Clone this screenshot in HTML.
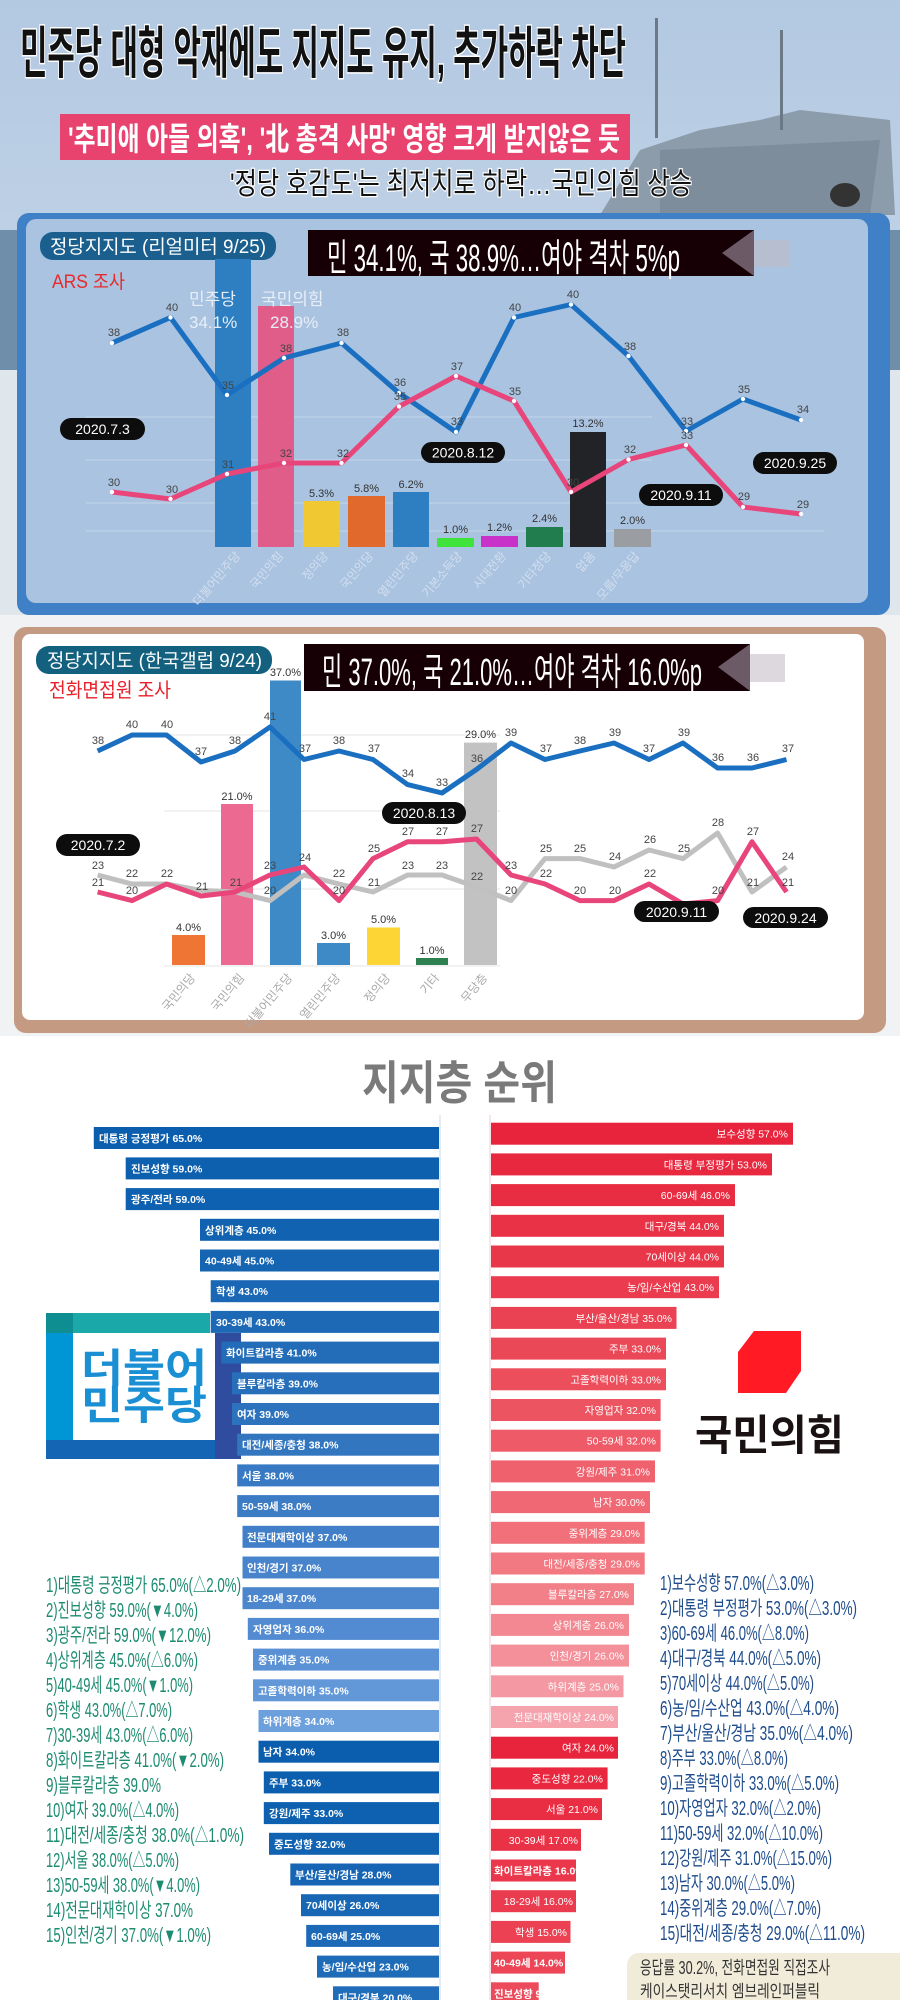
<!DOCTYPE html>
<html><head><meta charset="utf-8"><style>
html,body{margin:0;padding:0;background:#fff}
svg{display:block}
text{font-family:"Liberation Sans","Noto Sans CJK KR",sans-serif}
.pl{font-size:11px;fill:#444}
.pl2{font-size:11px;fill:#333}
.bl{font-size:10.5px;font-weight:bold;fill:#fff}
.br{font-size:10.5px;fill:#fff;text-anchor:end}
.lt{font-size:20px;fill:#1d8b70}
.rt{font-size:20px;fill:#1e4c8c}
.dp{font-size:14px;fill:#fff}
</style></head><body>
<svg width="900" height="2000" viewBox="0 0 900 2000" xmlns="http://www.w3.org/2000/svg">
<defs>
<linearGradient id="sky" x1="0" y1="0" x2="0" y2="1"><stop offset="0" stop-color="#b3c9e2"/><stop offset="1" stop-color="#cfdcea"/></linearGradient>
</defs>
<rect x="0" y="0" width="900" height="620" fill="url(#sky)"/>
<rect x="0" y="230" width="900" height="140" fill="#6f8ea9"/>
<rect x="0" y="370" width="900" height="250" fill="#dfe6ec"/>
<polygon points="600,215 640,150 700,130 760,120 800,110 890,120 895,215" fill="#8d9cab"/>
<polygon points="660,150 880,140 870,215 660,215" fill="#7d8d9c"/>
<rect x="655" y="18" width="3" height="120" fill="#6b7886"/>
<rect x="780" y="30" width="3" height="100" fill="#6b7886"/>
<ellipse cx="845" cy="195" rx="15" ry="12" fill="#333"/>
<text x="20" y="73" font-size="56" font-weight="bold" fill="#111" stroke="#fff" stroke-width="3" paint-order="stroke" textLength="606" lengthAdjust="spacingAndGlyphs">민주당 대형 악재에도 지지도 유지, 추가하락 차단</text>
<rect x="60" y="114" width="570" height="46" fill="#e8436f"/>
<text x="68" y="150" font-size="32" font-weight="bold" fill="#fff" textLength="552" lengthAdjust="spacingAndGlyphs">'추미애 아들 의혹', '北 총격 사망' 영향 크게 받지않은 듯</text>
<text x="230" y="194" font-size="30" fill="#111" stroke="#fff" stroke-width="2.5" paint-order="stroke" textLength="462" lengthAdjust="spacingAndGlyphs">'정당 호감도'는 최저치로 하락…국민의힘 상승</text>

<rect x="17" y="213" width="873" height="402" rx="12" fill="#3f80c6"/>
<rect x="26" y="219" width="842" height="384" rx="10" fill="#a9c3e0"/>
<g stroke="#c5d6ea" stroke-width="1">
<line x1="86" y1="417" x2="652" y2="417"/><line x1="86" y1="460" x2="652" y2="460"/><line x1="86" y1="503" x2="652" y2="503"/><line x1="86" y1="531" x2="824" y2="531"/>
</g>
<rect x="40" y="232" width="236" height="28" rx="13" fill="#1a5f8e"/>
<text x="50" y="253" font-size="19" fill="#fff" textLength="216" lengthAdjust="spacingAndGlyphs">정당지지도 (리얼미터 9/25)</text>
<text x="52" y="288" font-size="19" fill="#e82a2a" textLength="73" lengthAdjust="spacingAndGlyphs">ARS 조사</text>
<rect x="308" y="230" width="446" height="46" fill="#160006"/>
<rect x="754" y="240" width="35" height="27" fill="#b6bed0"/>
<polygon points="754,230 754,276 722,253" fill="#6c5a66"/>
<text x="327" y="271" font-size="38" fill="#fff" textLength="353" lengthAdjust="spacingAndGlyphs">민 34.1%, 국 38.9%…여야 격차 5%p</text>
<rect x="215" y="259" width="36" height="288" fill="#2e7fc1"/>
<rect x="258" y="306" width="36" height="241" fill="#e05d8a"/>
<rect x="303" y="501" width="37" height="46" fill="#f0c832"/>
<rect x="348" y="496" width="37" height="51" fill="#e2692c"/>
<rect x="393" y="492" width="36" height="55" fill="#2e7fc1"/>
<rect x="437" y="538" width="37" height="9" fill="#3ee43a"/>
<rect x="481" y="536" width="37" height="11" fill="#c832c8"/>
<rect x="526" y="527" width="37" height="20" fill="#217d4e"/>
<rect x="570" y="432" width="36" height="115" fill="#222326"/>
<rect x="614" y="529" width="37" height="18" fill="#9a9da2"/>
<text x="189" y="305" font-size="17" fill="#e8eef6">민주당</text>
<text x="189" y="328" font-size="17" fill="#e8eef6">34.1%</text>
<text x="261" y="305" font-size="17" fill="#e8eef6">국민의힘</text>
<text x="270" y="328" font-size="17" fill="#e8eef6">28.9%</text>
<g class="pl2" text-anchor="middle">
<text x="321.5" y="497">5.3%</text><text x="366.5" y="492">5.8%</text><text x="411" y="488">6.2%</text><text x="455.5" y="533">1.0%</text><text x="499.5" y="531">1.2%</text><text x="544.5" y="522">2.4%</text><text x="588" y="427">13.2%</text><text x="632.5" y="524">2.0%</text>
</g>
<g font-size="12" fill="#d4dff0" text-anchor="end">
<text transform="translate(241,556) rotate(-50)">더불어민주당</text>
<text transform="translate(284,556) rotate(-50)">국민의힘</text>
<text transform="translate(329,556) rotate(-50)">정의당</text>
<text transform="translate(374,556) rotate(-50)">국민의당</text>
<text transform="translate(419,556) rotate(-50)">열린민주당</text>
<text transform="translate(463,556) rotate(-50)">기본소득당</text>
<text transform="translate(507,556) rotate(-50)">시대전환</text>
<text transform="translate(552,556) rotate(-50)">기타정당</text>
<text transform="translate(596,556) rotate(-50)">없음</text>
<text transform="translate(640,556) rotate(-50)">모름/무응답</text>
</g>
<polyline points="112,343 170.5,317.5 227,395 284,358 341.5,343 399,393 456,432 514,317.5 571,304.5 628.5,356 686,431 743,399 801,420" fill="none" stroke="#1a6fc0" stroke-width="5" stroke-linejoin="round"/>
<polyline points="112,492 170.5,499 227,474 284,463 341.5,463 399,406.5 456,376 514,401 571,492 628.5,459.5 686,445 743,507 801,514" fill="none" stroke="#e8457a" stroke-width="5" stroke-linejoin="round"/>
<g fill="#fff">
<circle cx="112" cy="343" r="2.2"/><circle cx="170.5" cy="317.5" r="2.2"/><circle cx="227" cy="395" r="2.2"/><circle cx="284" cy="358" r="2.2"/><circle cx="341.5" cy="343" r="2.2"/><circle cx="399" cy="393" r="2.2"/><circle cx="456" cy="432" r="2.2"/><circle cx="514" cy="317.5" r="2.2"/><circle cx="571" cy="304.5" r="2.2"/><circle cx="628.5" cy="356" r="2.2"/><circle cx="686" cy="431" r="2.2"/><circle cx="743" cy="399" r="2.2"/><circle cx="801" cy="420" r="2.2"/>
<circle cx="112" cy="492" r="2.2"/><circle cx="170.5" cy="499" r="2.2"/><circle cx="227" cy="474" r="2.2"/><circle cx="284" cy="463" r="2.2"/><circle cx="341.5" cy="463" r="2.2"/><circle cx="399" cy="406.5" r="2.2"/><circle cx="456" cy="376" r="2.2"/><circle cx="514" cy="401" r="2.2"/><circle cx="571" cy="492" r="2.2"/><circle cx="628.5" cy="459.5" r="2.2"/><circle cx="686" cy="445" r="2.2"/><circle cx="743" cy="507" r="2.2"/><circle cx="801" cy="514" r="2.2"/>
</g>
<g class="pl" text-anchor="middle">
<text x="114" y="336">38</text><text x="172" y="311">40</text><text x="228" y="389">35</text><text x="286" y="352">38</text><text x="343" y="336">38</text><text x="400" y="386">36</text><text x="457" y="425">33</text><text x="515" y="311">40</text><text x="573" y="298">40</text><text x="630" y="350">38</text><text x="687" y="425">33</text><text x="744" y="393">35</text><text x="803" y="413">34</text>
<text x="114" y="486">30</text><text x="172" y="493">30</text><text x="228" y="468">31</text><text x="286" y="457">32</text><text x="343" y="457">32</text><text x="400" y="400">35</text><text x="457" y="370">37</text><text x="515" y="395">35</text><text x="573" y="486">30</text><text x="630" y="453">32</text><text x="687" y="439">33</text><text x="744" y="500">29</text><text x="803" y="508">29</text>
</g>
<rect x="60" y="418" width="85" height="22" rx="11" fill="#0d0d0d"/><text class="dp" x="102.5" y="434" text-anchor="middle">2020.7.3</text>
<rect x="421" y="442" width="84" height="21" rx="10.5" fill="#0d0d0d"/><text class="dp" x="463" y="457.5" text-anchor="middle">2020.8.12</text>
<rect x="639" y="484" width="84" height="22" rx="11" fill="#0d0d0d"/><text class="dp" x="681" y="500" text-anchor="middle">2020.9.11</text>
<rect x="753" y="452" width="84" height="22" rx="11" fill="#0d0d0d"/><text class="dp" x="795" y="468" text-anchor="middle">2020.9.25</text>

<rect x="0" y="615" width="900" height="421" fill="#f1f2f3"/>
<rect x="14" y="627" width="872" height="406" rx="12" fill="#c49a82"/>
<rect x="22" y="634" width="842" height="386" rx="8" fill="#fff"/>
<g stroke="#eeeeee" stroke-width="1.5">
<line x1="164" y1="735" x2="500" y2="735"/><line x1="164" y1="811" x2="500" y2="811"/><line x1="164" y1="889" x2="500" y2="889"/><line x1="164" y1="966" x2="500" y2="966"/>
</g>
<rect x="36" y="646" width="236" height="28" rx="13" fill="#13617f"/>
<text x="47" y="667" font-size="19" fill="#fff" textLength="215" lengthAdjust="spacingAndGlyphs">정당지지도 (한국갤럽 9/24)</text>
<text x="49" y="697" font-size="20" fill="#e8202a" textLength="122" lengthAdjust="spacingAndGlyphs">전화면접원 조사</text>
<rect x="304" y="644" width="446" height="47" fill="#160006"/>
<rect x="750" y="654" width="35" height="28" fill="#dcd8de"/>
<polygon points="750,644 750,691 718,667" fill="#6c5a66"/>
<text x="322" y="685" font-size="38" fill="#fff" textLength="380" lengthAdjust="spacingAndGlyphs">민 37.0%, 국 21.0%…여야 격차 16.0%p</text>
<rect x="172" y="935" width="33" height="30" fill="#ef7535"/>
<rect x="221" y="804" width="32" height="161" fill="#ec6a92"/>
<rect x="270" y="680.5" width="31" height="284.5" fill="#3d8ac6"/>
<rect x="317" y="943" width="33" height="22" fill="#3d8ac6"/>
<rect x="367" y="927.5" width="33" height="37.5" fill="#fdd535"/>
<rect x="416" y="958" width="32" height="7" fill="#2e8050"/>
<rect x="464" y="742.6" width="33" height="222.4" fill="#c2c2c2"/>
<g class="pl2" text-anchor="middle">
<text x="188.5" y="931">4.0%</text><text x="237" y="800">21.0%</text><text x="285.5" y="676">37.0%</text><text x="333.5" y="939">3.0%</text><text x="383.5" y="923">5.0%</text><text x="432" y="954">1.0%</text><text x="480.5" y="738">29.0%</text>
</g>
<g font-size="12" fill="#aaa" text-anchor="end">
<text transform="translate(196,978) rotate(-50)">국민의당</text>
<text transform="translate(245,978) rotate(-50)">국민의힘</text>
<text transform="translate(293,978) rotate(-50)">더불어민주당</text>
<text transform="translate(341,978) rotate(-50)">열린민주당</text>
<text transform="translate(391,978) rotate(-50)">정의당</text>
<text transform="translate(440,978) rotate(-50)">기타</text>
<text transform="translate(488,978) rotate(-50)">무당층</text>
</g>
<polyline points="97.6,875 132,884 166.5,884 201,890.5 235,892 270,900.6 304,875 339,884 373,892 407.6,875 442,875 476.5,887 511,900.6 545,858.6 580,858.6 614,867 649,850 683,858.6 717.6,833 752,892 786.5,867" fill="none" stroke="#c0c0c0" stroke-width="5" stroke-linejoin="round"/>
<polyline points="97.6,892 132,900.6 166.5,884 201,896 235,892 270,875 304,867 339,900.6 373,858.6 407.6,841.8 442,841.8 476.5,839 511,875 545,884 580,900.6 614,900.6 649,884 683,904 717.6,900.6 752,841.8 786.5,892" fill="none" stroke="#e8457a" stroke-width="5" stroke-linejoin="round"/>
<polyline points="97.6,751 132,735 166.5,735 201,762 235,751 270,727 304,759.5 339,751 373,759.5 407.6,784.6 442,793 476.5,769.5 511,743 545,759.5 580,751 614,743 649,759.5 683,743 717.6,768 752,768 786.5,759.5" fill="none" stroke="#1a6fc0" stroke-width="5" stroke-linejoin="round"/>
<g class="pl" text-anchor="middle">
<text x="98" y="744">38</text><text x="132" y="728">40</text><text x="167" y="728">40</text><text x="201" y="755">37</text><text x="235" y="744">38</text><text x="270" y="720">41</text><text x="305" y="752">37</text><text x="339" y="744">38</text><text x="374" y="752">37</text><text x="408" y="777">34</text><text x="442" y="786">33</text><text x="477" y="762">36</text><text x="511" y="736">39</text><text x="546" y="752">37</text><text x="580" y="744">38</text><text x="615" y="736">39</text><text x="649" y="752">37</text><text x="684" y="736">39</text><text x="718" y="761">36</text><text x="753" y="761">36</text><text x="788" y="752">37</text>
<text x="98" y="886">21</text><text x="132" y="894">20</text><text x="202" y="890">21</text><text x="236" y="886">21</text><text x="270" y="869">23</text><text x="305" y="861">24</text><text x="339" y="894">20</text><text x="374" y="852">25</text><text x="408" y="835">27</text><text x="442" y="835">27</text><text x="477" y="832">27</text><text x="511" y="869">23</text><text x="546" y="877">22</text><text x="580" y="894">20</text><text x="615" y="894">20</text><text x="650" y="877">22</text><text x="718" y="894">20</text><text x="753" y="835">27</text><text x="788" y="886">21</text>
<text x="98" y="869">23</text><text x="132" y="877">22</text><text x="167" y="877">22</text><text x="270" y="894">20</text><text x="339" y="877">22</text><text x="374" y="886">21</text><text x="408" y="869">23</text><text x="442" y="869">23</text><text x="477" y="880">22</text><text x="511" y="894">20</text><text x="546" y="852">25</text><text x="580" y="852">25</text><text x="615" y="860">24</text><text x="650" y="843">26</text><text x="684" y="852">25</text><text x="718" y="826">28</text><text x="753" y="886">21</text><text x="788" y="860">24</text>
</g>
<rect x="56" y="834" width="84" height="22" rx="11" fill="#0d0d0d"/><text class="dp" x="98" y="850" text-anchor="middle">2020.7.2</text>
<rect x="382" y="802" width="84" height="22" rx="11" fill="#0d0d0d"/><text class="dp" x="424" y="818" text-anchor="middle">2020.8.13</text>
<rect x="634" y="901" width="85" height="21" rx="10.5" fill="#0d0d0d"/><text class="dp" x="676.5" y="917" text-anchor="middle">2020.9.11</text>
<rect x="743" y="907" width="85" height="21" rx="10.5" fill="#0d0d0d"/><text class="dp" x="785.5" y="923" text-anchor="middle">2020.9.24</text>

<text x="362" y="1099" font-size="46" font-weight="bold" fill="#7a7a7a" textLength="195" lengthAdjust="spacingAndGlyphs">지지층 순위</text>
<line x1="440" y1="1115" x2="440" y2="2000" stroke="#e6ecf4" stroke-width="2"/>
<line x1="490" y1="1115" x2="490" y2="2000" stroke="#f4e6ea" stroke-width="2"/>
<!-- Minjoo logo (under bars) -->
<rect x="46" y="1313" width="195" height="146" fill="#fff"/>
<rect x="46" y="1313" width="164" height="20" fill="#1aa8a8"/>
<rect x="46" y="1313" width="27" height="20" fill="#0f8e92"/>
<rect x="46" y="1333" width="27" height="107" fill="#0096d6"/>
<rect x="46" y="1440" width="195" height="19" fill="#1565b5"/>
<rect x="215" y="1333" width="26" height="126" fill="#2f4c9e"/>
<text x="81" y="1382" font-size="40" font-weight="bold" fill="#1a8fd4" textLength="126" lengthAdjust="spacingAndGlyphs">더불어</text>
<text x="81" y="1419" font-size="40" font-weight="bold" fill="#1a8fd4" textLength="126" lengthAdjust="spacingAndGlyphs">민주당</text>
<g>
<rect x="93.8" y="1127" width="345.2" height="22" fill="#0a5ead"/><text class="bl" x="99" y="1142">대통령 긍정평가 65.0%</text>
<rect x="125.7" y="1157.4" width="313.3" height="22" fill="#0c60ae"/><text class="bl" x="131" y="1172.4">진보성향 59.0%</text>
<rect x="125.7" y="1188.1" width="313.3" height="22" fill="#0e61b0"/><text class="bl" x="131" y="1203.1">광주/전라 59.0%</text>
<rect x="200" y="1218.8" width="239" height="22" fill="#1163b1"/><text class="bl" x="205" y="1233.8">상위계층 45.0%</text>
<rect x="200" y="1249.5" width="239" height="22" fill="#1565b3"/><text class="bl" x="205" y="1264.5">40-49세 45.0%</text>
<rect x="210.7" y="1280.2" width="228.3" height="22" fill="#1967b5"/><text class="bl" x="216" y="1295.2">학생 43.0%</text>
<rect x="210.7" y="1310.9" width="228.3" height="22" fill="#1d69b6"/><text class="bl" x="216" y="1325.9">30-39세 43.0%</text>
<rect x="221.3" y="1341.6" width="217.7" height="22" fill="#226cb8"/><text class="bl" x="226" y="1356.6">화이트칼라층 41.0%</text>
<rect x="232" y="1372.3" width="207" height="22" fill="#276fba"/><text class="bl" x="237" y="1387.3">블루칼라층 39.0%</text>
<rect x="232" y="1403" width="207" height="22" fill="#2c72bd"/><text class="bl" x="237" y="1418">여자 39.0%</text>
<rect x="237.2" y="1433.7" width="201.8" height="22" fill="#3276c0"/><text class="bl" x="242" y="1448.7">대전/세종/충청 38.0%</text>
<rect x="237.2" y="1464.4" width="201.8" height="22" fill="#3779c2"/><text class="bl" x="242" y="1479.4">서울 38.0%</text>
<rect x="237.2" y="1495.1" width="201.8" height="22" fill="#3c7cc5"/><text class="bl" x="242" y="1510.1">50-59세 38.0%</text>
<rect x="242.5" y="1525.8" width="196.5" height="22" fill="#4180c8"/><text class="bl" x="247" y="1540.8">전문대재학이상 37.0%</text>
<rect x="242.5" y="1556.5" width="196.5" height="22" fill="#4784cb"/><text class="bl" x="247" y="1571.5">인천/경기 37.0%</text>
<rect x="242.5" y="1587.2" width="196.5" height="22" fill="#4c87ce"/><text class="bl" x="247" y="1602.2">18-29세 37.0%</text>
<rect x="247.8" y="1617.9" width="191.2" height="22" fill="#528bd1"/><text class="bl" x="253" y="1632.9">자영업자 36.0%</text>
<rect x="253" y="1648.6" width="186" height="22" fill="#5a91d5"/><text class="bl" x="258" y="1663.6">중위계층 35.0%</text>
<rect x="253" y="1679.3" width="186" height="22" fill="#6398d8"/><text class="bl" x="258" y="1694.3">고졸학력이하 35.0%</text>
<rect x="258.5" y="1710" width="180.5" height="22" fill="#6ba0dc"/><text class="bl" x="263" y="1725">하위계층 34.0%</text>
<rect x="258.5" y="1740.7" width="180.5" height="22" fill="#0a5ead"/><text class="bl" x="263" y="1755.7">남자 34.0%</text>
<rect x="263.8" y="1771.4" width="175.2" height="22" fill="#0c5faf"/><text class="bl" x="269" y="1786.4">주부 33.0%</text>
<rect x="263.8" y="1802.1" width="175.2" height="22" fill="#0e61b1"/><text class="bl" x="269" y="1817.1">강원/제주 33.0%</text>
<rect x="269" y="1832.8" width="170" height="22" fill="#1163b2"/><text class="bl" x="274" y="1847.8">중도성향 32.0%</text>
<rect x="290.3" y="1863.5" width="148.7" height="22" fill="#1565b4"/><text class="bl" x="295" y="1878.5">부산/울산/경남 28.0%</text>
<rect x="301" y="1894.2" width="138" height="22" fill="#1867b5"/><text class="bl" x="306" y="1909.2">70세이상 26.0%</text>
<rect x="306.2" y="1924.9" width="132.8" height="22" fill="#1b69b7"/><text class="bl" x="311" y="1939.9">60-69세 25.0%</text>
<rect x="317" y="1955.6" width="122" height="22" fill="#1e6bb8"/><text class="bl" x="322" y="1970.6">농/임/수산업 23.0%</text>
<rect x="333" y="1986.3" width="106" height="22" fill="#216db9"/><text class="bl" x="338" y="2001.3">대구/경북 20.0%</text>
</g>
<g>
<rect x="491" y="1122.7" width="302" height="22" fill="#e8243c"/><text class="br" x="788" y="1137.7">보수성향 57.0%</text>
<rect x="491" y="1153.4" width="281" height="22" fill="#e8283f"/><text class="br" x="767" y="1168.4">대통령 부정평가 53.0%</text>
<rect x="491" y="1184.1" width="244" height="22" fill="#e82d43"/><text class="br" x="730" y="1199.1">60-69세 46.0%</text>
<rect x="491" y="1214.8" width="233" height="22" fill="#e93246"/><text class="br" x="719" y="1229.8">대구/경북 44.0%</text>
<rect x="491" y="1245.5" width="233" height="22" fill="#e9374a"/><text class="br" x="719" y="1260.5">70세이상 44.0%</text>
<rect x="491" y="1276.2" width="228" height="22" fill="#ea3c4e"/><text class="br" x="714" y="1291.2">농/임/수산업 43.0%</text>
<rect x="491" y="1306.9" width="185.5" height="22" fill="#ea4252"/><text class="br" x="672" y="1321.9">부산/울산/경남 35.0%</text>
<rect x="491" y="1337.6" width="175" height="22" fill="#eb4857"/><text class="br" x="661" y="1352.6">주부 33.0%</text>
<rect x="491" y="1368.3" width="175" height="22" fill="#ec4e5c"/><text class="br" x="661" y="1383.3">고졸학력이하 33.0%</text>
<rect x="491" y="1399" width="169.6" height="22" fill="#ed5461"/><text class="br" x="656" y="1414">자영업자 32.0%</text>
<rect x="491" y="1429.7" width="169.6" height="22" fill="#ee5a67"/><text class="br" x="656" y="1444.7">50-59세 32.0%</text>
<rect x="491" y="1460.4" width="164" height="22" fill="#ef616d"/><text class="br" x="650" y="1475.4">강원/제주 31.0%</text>
<rect x="491" y="1491.1" width="159" height="22" fill="#f06873"/><text class="br" x="645" y="1506.1">남자 30.0%</text>
<rect x="491" y="1521.8" width="153.7" height="22" fill="#f1707a"/><text class="br" x="640" y="1536.8">중위계층 29.0%</text>
<rect x="491" y="1552.5" width="153.7" height="22" fill="#f27881"/><text class="br" x="640" y="1567.5">대전/세종/충청 29.0%</text>
<rect x="491" y="1583.2" width="143" height="22" fill="#f28089"/><text class="br" x="629" y="1598.2">블루칼라층 27.0%</text>
<rect x="491" y="1613.9" width="138" height="22" fill="#f38892"/><text class="br" x="624" y="1628.9">상위계층 26.0%</text>
<rect x="491" y="1644.6" width="138" height="22" fill="#f3909a"/><text class="br" x="624" y="1659.6">인천/경기 26.0%</text>
<rect x="491" y="1675.3" width="132.5" height="22" fill="#f499a3"/><text class="br" x="619" y="1690.3">하위계층 25.0%</text>
<rect x="491" y="1706" width="127" height="22" fill="#f5a3ad"/><text class="br" x="614" y="1721">전문대재학이상 24.0%</text>
<rect x="491" y="1736.7" width="127" height="22" fill="#e8243c"/><text class="br" x="614" y="1751.7">여자 24.0%</text>
<rect x="491" y="1767.4" width="116.6" height="22" fill="#e9283f"/><text class="br" x="603" y="1782.4">중도성향 22.0%</text>
<rect x="491" y="1798.1" width="111" height="22" fill="#e92d43"/><text class="br" x="598" y="1813.1">서울 21.0%</text>
<rect x="491" y="1828.8" width="90" height="22" fill="#ea3247"/><text class="br" x="578" y="1843.8">30-39세 17.0%</text>
<rect x="491" y="1859.5" width="85" height="22" fill="#ea374b"/><text class="bl" x="494" y="1874.5" font-weight="normal">화이트칼라층 16.0%</text>
<rect x="491" y="1890.2" width="85" height="22" fill="#eb3c4f"/><text class="br" x="573" y="1905.2">18-29세 16.0%</text>
<rect x="491" y="1920.9" width="79.5" height="22" fill="#eb4153"/><text class="br" x="567" y="1935.9">학생 15.0%</text>
<rect x="491" y="1951.6" width="74" height="22" fill="#ec4657"/><text class="bl" x="494" y="1966.6" font-weight="normal">40-49세 14.0%</text>
<rect x="491" y="1982.3" width="47.7" height="22" fill="#ec4b5b"/><text class="bl" x="494" y="1997.3" font-weight="normal">진보성향 9.0%</text>
</g>
<polygon points="754,1331 801,1331 801,1371 786,1393 738,1393 738,1352" fill="#ff1a24"/>
<text x="695" y="1450" font-size="42" font-weight="bold" fill="#1a1212" textLength="149" lengthAdjust="spacingAndGlyphs">국민의힘</text>
<g class="lt">
<text x="46" y="1592" textLength="195" lengthAdjust="spacingAndGlyphs">1)대통령 긍정평가 65.0%(△2.0%)</text>
<text x="46" y="1617" textLength="152" lengthAdjust="spacingAndGlyphs">2)진보성향 59.0%(▼4.0%)</text>
<text x="46" y="1642" textLength="165" lengthAdjust="spacingAndGlyphs">3)광주/전라 59.0%(▼12.0%)</text>
<text x="46" y="1667" textLength="152" lengthAdjust="spacingAndGlyphs">4)상위계층 45.0%(△6.0%)</text>
<text x="46" y="1692" textLength="147" lengthAdjust="spacingAndGlyphs">5)40-49세 45.0%(▼1.0%)</text>
<text x="46" y="1717" textLength="126" lengthAdjust="spacingAndGlyphs">6)학생 43.0%(△7.0%)</text>
<text x="46" y="1742" textLength="147" lengthAdjust="spacingAndGlyphs">7)30-39세 43.0%(△6.0%)</text>
<text x="46" y="1767" textLength="178" lengthAdjust="spacingAndGlyphs">8)화이트칼라층 41.0%(▼2.0%)</text>
<text x="46" y="1792" textLength="115" lengthAdjust="spacingAndGlyphs">9)블루칼라층 39.0%</text>
<text x="46" y="1817" textLength="133" lengthAdjust="spacingAndGlyphs">10)여자 39.0%(△4.0%)</text>
<text x="46" y="1842" textLength="198" lengthAdjust="spacingAndGlyphs">11)대전/세종/충청 38.0%(△1.0%)</text>
<text x="46" y="1867" textLength="133" lengthAdjust="spacingAndGlyphs">12)서울 38.0%(△5.0%)</text>
<text x="46" y="1892" textLength="154" lengthAdjust="spacingAndGlyphs">13)50-59세 38.0%(▼4.0%)</text>
<text x="46" y="1917" textLength="147" lengthAdjust="spacingAndGlyphs">14)전문대재학이상 37.0%</text>
<text x="46" y="1942" textLength="165" lengthAdjust="spacingAndGlyphs">15)인천/경기 37.0%(▼1.0%)</text>
</g>
<g class="rt">
<text x="660" y="1590" textLength="154" lengthAdjust="spacingAndGlyphs">1)보수성향 57.0%(△3.0%)</text>
<text x="660" y="1615" textLength="197" lengthAdjust="spacingAndGlyphs">2)대통령 부정평가 53.0%(△3.0%)</text>
<text x="660" y="1640" textLength="149" lengthAdjust="spacingAndGlyphs">3)60-69세 46.0%(△8.0%)</text>
<text x="660" y="1665" textLength="161" lengthAdjust="spacingAndGlyphs">4)대구/경북 44.0%(△5.0%)</text>
<text x="660" y="1690" textLength="154" lengthAdjust="spacingAndGlyphs">5)70세이상 44.0%(△5.0%)</text>
<text x="660" y="1715" textLength="179" lengthAdjust="spacingAndGlyphs">6)농/임/수산업 43.0%(△4.0%)</text>
<text x="660" y="1740" textLength="193" lengthAdjust="spacingAndGlyphs">7)부산/울산/경남 35.0%(△4.0%)</text>
<text x="660" y="1765" textLength="128" lengthAdjust="spacingAndGlyphs">8)주부 33.0%(△8.0%)</text>
<text x="660" y="1790" textLength="179" lengthAdjust="spacingAndGlyphs">9)고졸학력이하 33.0%(△5.0%)</text>
<text x="660" y="1815" textLength="161" lengthAdjust="spacingAndGlyphs">10)자영업자 32.0%(△2.0%)</text>
<text x="660" y="1840" textLength="163" lengthAdjust="spacingAndGlyphs">11)50-59세 32.0%(△10.0%)</text>
<text x="660" y="1865" textLength="172" lengthAdjust="spacingAndGlyphs">12)강원/제주 31.0%(△15.0%)</text>
<text x="660" y="1890" textLength="135" lengthAdjust="spacingAndGlyphs">13)남자 30.0%(△5.0%)</text>
<text x="660" y="1915" textLength="161" lengthAdjust="spacingAndGlyphs">14)중위계층 29.0%(△7.0%)</text>
<text x="660" y="1940" textLength="205" lengthAdjust="spacingAndGlyphs">15)대전/세종/충청 29.0%(△11.0%)</text>
</g>
<rect x="627" y="1953" width="290" height="60" rx="12" fill="#f0ecd9"/>
<text x="640" y="1974" font-size="18" fill="#333" textLength="190" lengthAdjust="spacingAndGlyphs">응답률 30.2%, 전화면접원 직접조사</text>
<text x="640" y="1997" font-size="17" fill="#333" textLength="180" lengthAdjust="spacingAndGlyphs">케이스탯리서치 엠브레인퍼블릭</text>
</svg>
</body></html>
